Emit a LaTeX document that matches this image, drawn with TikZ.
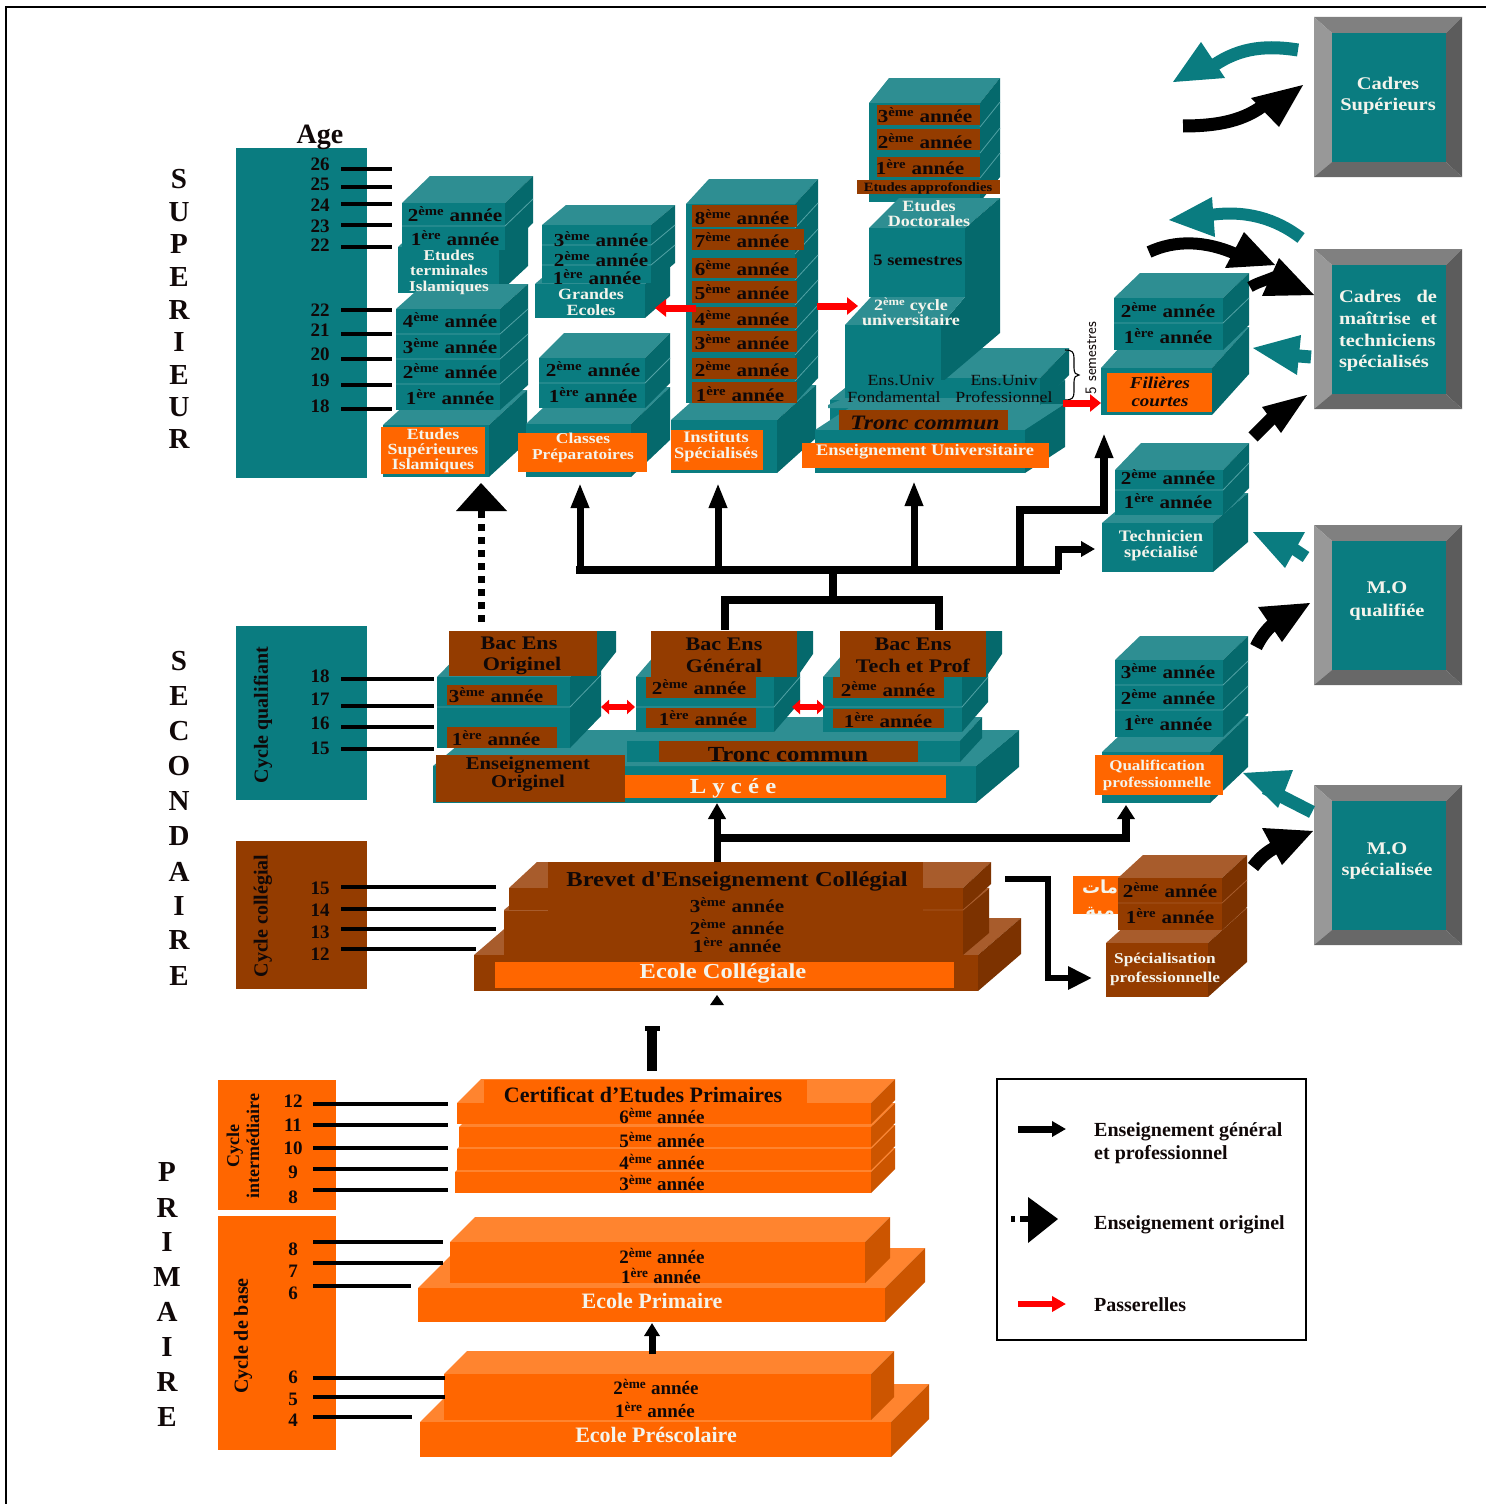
\documentclass[tikz,border=0pt]{standalone}
\usepackage{fontspec}
\setmainfont{Liberation Serif}
\newfontfamily\wf[FakeStretch=1.15]{Liberation Serif}
\newfontfamily\arabicfont[Script=Arabic]{DejaVu Sans}
\TeXXeTstate=1
\usetikzlibrary{arrows.meta}
\definecolor{tf}{HTML}{0A7C80}\definecolor{tt}{HTML}{2E8E92}\definecolor{ts}{HTML}{05696C}
\definecolor{bf}{HTML}{943C00}\definecolor{bt}{HTML}{A85C2C}\definecolor{bs}{HTML}{7C3200}
\definecolor{of}{HTML}{FF6600}\definecolor{ot}{HTML}{FF842F}\definecolor{os}{HTML}{CC5500}
\definecolor{gt}{HTML}{808080}\definecolor{gl}{HTML}{989898}\definecolor{gr}{HTML}{5C5C5C}\definecolor{gb}{HTML}{686868}
\definecolor{dk}{HTML}{100808}
\definecolor{cwhite}{HTML}{F4F4EC}
\newcounter{nn}
\tikzset{
 lab/.style={inner sep=0pt,align=center,text=dk,yshift=-1pt},
 wt/.style={text=cwhite},
 sz/.style={font=\fontsize{#1}{#1}\selectfont\bfseries},
 wd/.style={font=\wf\fontsize{#1}{#1}\selectfont\bfseries},
 wi/.style={font=\wf\fontsize{#1}{#1}\selectfont\bfseries\itshape},
 wn/.style={font=\wf\fontsize{#1}{#1}\selectfont},
 tickline/.style={line width=3.4pt,black},
 conn/.style={line width=8pt,black,miter limit=10},
 bigtip/.style={-{Triangle[length=25pt,width=17pt]}},
 redtip/.style={line width=7pt,red,-{Triangle[length=11pt,width=17pt]}},
 redboth/.style={line width=6pt,red,{Triangle[length=8pt,width=14pt]}-{Triangle[length=8pt,width=14pt]}},
 divline/.style={white!30!tf,line width=.8pt},
}
% scheme, x0,y0,x1,y1, dx,dy
\newcommand\bx[7]{%
 \fill[#1t] (#2,#3)--({#2+#6},{#3-#7})--({#4+#6},{#3-#7})--(#4,#3)--cycle;
 \fill[#1s] (#4,#3)--({#4+#6},{#3-#7})--({#4+#6},{#5-#7})--(#4,#5)--cycle;
 \fill[#1f] (#2,#3) rectangle (#4,#5);}
\newcommand\rc[5]{\fill[#1] (#2,#3) rectangle (#4,#5);}
% divider: x0,x1,y,dx,dy
\newcommand\dv[5]{\draw[divline] (#1,#3)--(#2,#3)--({#2+#4},{#3-#5});}
\newcommand\tx[4][]{\stepcounter{nn}\node[lab,#1] (t\thenn) at (#2,#3) {#4};}
\newcommand\yr[4]{\tx[wd=18.3,yshift=1pt]{#1}{#2}{#3\textsuperscript{#4} année}}
\newcommand\yp[4]{\tx[sz=19,yshift=1pt]{#1}{#2}{#3\textsuperscript{#4} année}}
\newcommand\tick[3]{\stepcounter{nn}\coordinate (c\thenn a) at (#1,#3);\coordinate (c\thenn b) at (#2,#3);\draw[tickline] (c\thenn a)--(c\thenn b);}
\newcommand\gbox[3]{% x y name
 \fill[gt] (#1,#2)--({#1+148},#2)--({#1+132},{#2+16})--({#1+18},{#2+16})--cycle;
 \fill[gl] (#1,#2)--({#1+18},{#2+16})--({#1+18},{#2+145})--(#1,{#2+160})--cycle;
 \fill[gr] ({#1+148},#2)--({#1+132},{#2+16})--({#1+132},{#2+145})--({#1+148},{#2+160})--cycle;
 \fill[gb] (#1,{#2+160})--({#1+18},{#2+145})--({#1+132},{#2+145})--({#1+148},{#2+160})--cycle;
 \node[fill=tf,minimum width=114pt,minimum height=129pt,inner sep=0pt] (#3) at ({#1+75},{#2+80.5}) {};
}
\begin{document}
\begin{tikzpicture}[x=1pt,y=-1pt]
\useasboundingbox (0,0) rectangle (1487,1504);
\draw[line width=2pt,black] (6,1504)--(6,7)--(1486,7);

% section letters
\foreach \c/\y [count=\i] in {S/178,U/211,P/243,E/276,R/309,I/341,E/374,U/406,R/438}
 \node[lab,sz=29] (sup\i) at (179,\y) {\c};
\foreach \c/\y [count=\i] in {S/660,E/695,C/730,O/765,N/800,D/835,A/871,I/905,R/939,E/975}
 \node[lab,sz=29] (sec\i) at (179,\y) {\c};
\foreach \c/\y [count=\i] in {P/1171,R/1207,I/1241,M/1276,A/1311,I/1346,R/1381,E/1416}
 \node[lab,sz=29] (pri\i) at (167,\y) {\c};

% age panels
\rc{tf}{236}{148}{367}{478}
\rc{tf}{236}{626}{367}{800}
\rc{bf}{236}{841}{367}{989}
\rc{of}{218}{1080}{336}{1210}
\rc{of}{218}{1216}{336}{1450}
\tx[sz=28]{320}{136}{Age}
\foreach \n/\y [count=\i] in {26/163,25/183,24/204,23/225,22/244,22/309,21/329,20/353,19/379,18/405,18/675,17/698,16/722,15/747,15/887,14/909,13/931,12/953}
 \node[lab,sz=19] (ag\i) at (320,\y) {\n};
\foreach \n/\y [count=\i] in {12/1100,11/1124,10/1147,9/1171,8/1196,8/1248,7/1270,6/1292,6/1376,5/1398,4/1419}
 \node[lab,sz=19] (ap\i) at (293,\y) {\n};
\tx[sz=20,rotate=90]{263}{714}{Cycle qualifiant}
\tx[sz=20,rotate=90]{263}{915}{Cycle collégial}
\tx[sz=18,rotate=90]{243}{1145}{Cycle\\[2pt]intermédiaire}
\tx[sz=20,rotate=90]{243}{1335}{Cycle de base}

% ===== Superieur, column 1
\bx{t}{398}{247}{499}{293}{29}{27}
\bx{t}{402}{203}{505}{250}{28}{27}
\dv{402}{505}{226}{28}{27}
\bx{t}{383}{425}{489}{477}{38}{35}
\bx{t}{396}{309}{500}{410}{28}{25}
\dv{396}{500}{334}{28}{25}\dv{396}{500}{359}{28}{25}\dv{396}{500}{384}{28}{25}
\rc{of}{381}{427}{485}{474}
\yr{455}{214}{2}{ème}\yr{455}{238}{1}{ère}
\tx[wd=15,wt]{449}{271}{Etudes\\[.5pt]terminales\\[.5pt]Islamiques}
\yr{450}{320}{4}{ème}\yr{450}{346}{3}{ème}\yr{450}{371}{2}{ème}\yr{450}{397}{1}{ère}
\tx[wd=15.5,wt]{433}{450}{Etudes\\[-.5pt]Supérieures\\[-.5pt]Islamiques}

% column 2
\bx{t}{535}{284}{645}{318}{25}{22}
\bx{t}{542}{225}{651}{283}{24}{20}
\dv{542}{651}{245}{24}{20}\dv{542}{651}{265}{24}{20}
\yr{601}{239}{3}{ème}\yr{601}{259}{2}{ème}\yr{597}{277}{1}{ère}
\tx[wd=15.6,wt]{591}{301}{Grandes\\[.4pt]Ecoles}
\bx{t}{526}{424}{631}{477}{39}{37}
\bx{t}{539}{358}{645}{408}{25}{25}
\dv{539}{645}{383}{25}{25}
\rc{of}{518}{433}{647}{472}
\yr{593}{369}{2}{ème}\yr{593}{395}{1}{ère}
\tx[wd=15.1,wt]{583}{447}{Classes\\[.9pt]Préparatoires}

% column 3
\bx{t}{671}{420}{777}{473}{39}{35}
\bx{t}{686}{204}{795}{403}{23}{25}
\dv{795}{795}{228}{23}{25}\dv{795}{795}{254}{23}{25}\dv{795}{795}{280}{23}{25}\dv{795}{795}{305}{23}{25}\dv{795}{795}{330}{23}{25}\dv{795}{795}{355}{23}{25}\dv{795}{795}{381}{23}{25}
\rc{bf}{692}{205}{797}{227}\rc{bf}{692}{229}{804}{250}\rc{bf}{692}{258}{797}{278}\rc{bf}{692}{281}{797}{303}
\rc{bf}{692}{307}{797}{328}\rc{bf}{692}{331}{797}{352}\rc{bf}{692}{358}{797}{379}\rc{bf}{692}{382}{797}{403}
\rc{of}{671}{430}{763}{470}
\yr{742}{217}{8}{ème}\yr{742}{240}{7}{ème}\yr{742}{268}{6}{ème}\yr{742}{292}{5}{ème}
\yr{742}{318}{4}{ème}\yr{742}{342}{3}{ème}\yr{742}{369}{2}{ème}\yr{740}{394}{1}{ère}
\tx[wd=16,wt]{716}{446}{Instituts\\Spécialisés}

% university tower
\bx{t}{869}{103}{980}{202}{20}{25}
\dv{980}{980}{127}{20}{25}\dv{980}{980}{153}{20}{25}\dv{980}{980}{178}{20}{25}
\rc{bf}{877}{105}{980}{125}\rc{bf}{877}{129}{980}{150}\rc{bf}{877}{157}{980}{177}
\rc{bf}{857}{180}{1000}{194}
\yr{925}{115}{3}{ème}\yr{925}{141}{2}{ème}\yr{920}{167}{1}{ère}
\tx[wd=12.7]{928}{187}{Etudes approfondies}
% lower layers
\bx{t}{830}{400}{1040}{430}{25}{20}
\bx{t}{815}{430}{1025}{473}{40}{26}
\rc{of}{802}{443}{1049}{468}
\bx{t}{945}{378}{1040}{405}{29}{30}
\fill[tt] (869,228)--(899,198)--(1000,198)--(965,228)--cycle;
\fill[ts] (965,228)--(1000,198)--(1000,333)--(941,383)--(941,325)--(965,297)--cycle;
\fill[tf] (869,228) rectangle (965,297);
\fill[tt] (845,325)--(871,297)--(965,297)--(941,325)--cycle;
\fill[tf] (845,325) rectangle (941,405);
\fill[tf] (845,380) rectangle (945,405);
\fill[tt] (828,405)--(845,398)--(1040,398)--(1040,408)--(828,408)--cycle;
\rc{bf}{839}{410}{1008}{430}
\tx[wd=15.7,wt]{929}{213}{Etudes\\[-.7pt]Doctorales}
\tx[wd=16]{918}{259}{5 semestres}
\tx[wd=15.7,wt]{911}{311}{2\textsuperscript{ème} cycle\\[-.7pt]universitaire}
\tx[wn=15.5]{901}{379}{Ens.Univ}
\tx[wn=15.5]{894}{396}{Fondamental}
\tx[wn=15.5]{1004}{379}{Ens.Univ}
\tx[wn=15.5]{1004}{396}{Professionnel}
\tx[wi=20.5]{925}{422}{Tronc commun}
\tx[wd=16,wt]{925}{451}{Enseignement Universitaire}
\draw[line width=1.1pt,black] (1065,350) .. controls (1072,350) and (1074,352) .. (1074,358) -- (1074,368) .. controls (1074,373) and (1076,375) .. (1079,375) .. controls (1076,375) and (1074,377) .. (1074,382) -- (1074,392) .. controls (1074,398) and (1072,400) .. (1065,400);
\tx[rotate=90,font=\fontsize{16}{16}\selectfont\sffamily]{1091}{357}{5 semestres}

% Filieres
\bx{t}{1101}{368}{1212}{415}{37}{41}
\bx{t}{1114}{298}{1223}{350}{26}{25}
\dv{1114}{1223}{323}{26}{25}
\rc{of}{1107}{373}{1212}{412}
\yr{1168}{310}{2}{ème}\yr{1168}{336}{1}{ère}
\tx[wi=16.5]{1160}{391}{Filières\\[1.5pt]courtes}
% Technicien
\bx{t}{1102}{523}{1213}{572}{35}{30}
\bx{t}{1115}{470}{1223}{515}{26}{27}
\dv{1115}{1223}{490}{26}{27}
\yr{1168}{477}{2}{ème}\yr{1168}{501}{1}{ère}
\tx[wd=16,wt]{1161}{545}{Technicien\\spécialisé}
% Qualification
\bx{t}{1102}{752}{1210}{803}{38}{36}
\bx{t}{1115}{660}{1223}{737}{25}{24}
\dv{1115}{1223}{685}{25}{24}\dv{1115}{1223}{710}{25}{24}
\rc{of}{1095}{755}{1223}{795}
\yr{1168}{671}{3}{ème}\yr{1168}{697}{2}{ème}\yr{1168}{723}{1}{ère}
\tx[wd=14.8,wt]{1157}{774}{Qualification\\[2pt]professionnelle}
% Specialisation
\rc{of}{1073}{876}{1125}{914}
\begin{scope}
\clip (1073,876) rectangle (1125,914);
\node[lab,wt,font=\arabicfont\bfseries\fontsize{18}{20}\selectfont] (ar1) at (1100,886) {\beginR مات\endR};
\node[lab,wt,font=\arabicfont\bfseries\fontsize{18}{20}\selectfont] (ar2) at (1100,912) {\beginR مية\endR};
\end{scope}
\bx{b}{1106}{943}{1208}{997}{39}{35}
\bx{b}{1118}{878}{1222}{930}{25}{23}
\draw[bt,line width=.8pt] (1118,903)--(1222,903)--(1247,880);
\yr{1170}{890}{2}{ème}\yr{1170}{916}{1}{ère}
\tx[wd=15,wt]{1165}{968}{Spécialisation\\[4pt]professionnelle}

% Lycee
\bx{t}{433}{766}{976}{803}{43}{36}
\fill[tt] (433,766)--(490,755)--(570,748)--(600,730)--(1019,730)--(976,766)--cycle;
\bx{t}{627}{741}{960}{762}{22}{24}
\rc{bf}{659}{741}{918}{762}
\rc{bf}{436}{755}{625}{802}
\rc{of}{625}{775}{946}{798}
\tx[wd=21.5]{788}{754}{Tronc commun}
\tx[wd=18,wt,text=dk]{528}{773}{Enseignement\\[.5pt]Originel}
\tx[wd=21.5,wt]{733}{787}{L y c é e}
% Originel
\bx{t}{437}{677}{570}{748}{31}{32}
\dv{437}{570}{707}{31}{32}
\rc{bf}{447}{685}{557}{705}\rc{bf}{447}{727}{557}{748}
\fill[ts] (597,631)--(616,631)--(616,652)--(597,676)--cycle;
\rc{bf}{449}{631}{597}{676}
\tx[wd=19.2]{519}{642}{Bac Ens}\tx[wd=19.2]{522}{665}{Originel}
\yr{496}{695}{3}{ème}\yr{496}{738}{1}{ère}
% General
\bx{t}{636}{677}{774}{732}{26}{30}
\dv{636}{774}{707}{26}{30}
\rc{bf}{646}{677}{756}{698}\rc{bf}{646}{708}{756}{728}
\fill[ts] (797,631)--(813,631)--(813,654)--(797,677)--cycle;
\rc{bf}{651}{631}{797}{677}
\tx[wd=19.2]{724}{643}{Bac Ens}\tx[wd=19.2]{724}{665}{Général}
\yr{699}{687}{2}{ème}\yr{703}{718}{1}{ère}
% Tech
\bx{t}{823}{677}{962}{732}{26}{30}
\dv{823}{962}{707}{26}{30}
\rc{bf}{833}{677}{944}{698}\rc{bf}{833}{709}{944}{728}
\fill[ts] (986,631)--(1002,631)--(1002,654)--(986,677)--cycle;
\rc{bf}{840}{631}{986}{677}
\tx[wd=19.2]{913}{643}{Bac Ens}\tx[wd=19.2]{913}{665}{Tech et Prof}
\yr{888}{689}{2}{ème}\yr{888}{720}{1}{ère}

% Ecole collegiale
\bx{b}{474}{955}{978}{991}{43}{37}
\rc{of}{495}{962}{954}{988}
\bx{b}{504}{910}{963}{955}{26}{22}
\bx{b}{509}{888}{963}{910}{28}{26}
\draw[bt,line width=.8pt] (504,910)--(548,910);\draw[bt,line width=.8pt] (923,910)--(963,910)--(989,888);
\rc{bf}{548}{862}{923}{888}
\tx[wd=21.3]{737}{880}{Brevet d'Enseignement Collégial}
\yr{737}{905}{3}{ème}\yr{737}{927}{2}{ème}\yr{737}{945}{1}{ère}
\tx[wd=21.3,wt]{723}{972}{Ecole Collégiale}

% Primaire
\bx{o}{455}{1172}{871}{1193}{24}{24}
\bx{o}{457}{1149}{871}{1170}{24}{24}
\bx{o}{459}{1127}{871}{1147}{24}{24}
\bx{o}{457}{1103}{871}{1124}{24}{24}
\rc{of}{484}{1080}{807}{1103}
\tx[sz=22]{643}{1094}{Certificat d'Etudes Primaires}
\yp{662}{1116}{6}{ème}\yp{662}{1140}{5}{ème}\yp{662}{1162}{4}{ème}\yp{662}{1183}{3}{ème}
\bx{o}{418}{1288}{885}{1322}{40}{40}
\bx{o}{450}{1242}{865}{1283}{25}{25}
\yp{662}{1256}{2}{ème}\yp{661}{1276}{1}{ère}
\tx[sz=22,wt]{652}{1300}{Ecole Primaire}
\bx{o}{420}{1422}{891}{1457}{38}{38}
\bx{o}{444}{1374}{871}{1420}{23}{23}
\yp{656}{1387}{2}{ème}\yp{655}{1410}{1}{ère}
\tx[sz=22,wt]{656}{1434}{Ecole Préscolaire}

% tick lines
\tick{341}{392}{169}\tick{341}{392}{187}\tick{341}{392}{204}\tick{341}{392}{225}\tick{341}{392}{247}
\tick{341}{392}{310}\tick{341}{392}{334}\tick{341}{392}{359}\tick{341}{392}{385}\tick{341}{392}{409}
\tick{341}{434}{679}\tick{341}{434}{706}\tick{341}{434}{727}\tick{341}{434}{749}
\tick{341}{496}{887}\tick{341}{496}{909}\tick{341}{496}{929}\tick{341}{476}{949}
\tick{313}{448}{1104}\tick{313}{448}{1125}\tick{313}{448}{1148}\tick{313}{448}{1169}\tick{313}{448}{1190}
\tick{313}{443}{1242}\tick{313}{443}{1263}\tick{313}{411}{1286}
\tick{313}{445}{1378}\tick{313}{445}{1397}\tick{313}{412}{1417}

% connectors: secondary to superior
\coordinate (h0) at (576,570);\coordinate (hE) at (1060,570);
\coordinate (a1) at (580,570);\coordinate (a1t) at (580,483);
\coordinate (a2) at (718,570);\coordinate (a2t) at (718,483);
\coordinate (a3) at (914,570);\coordinate (a3t) at (914,481);
\draw[conn] (h0)--(hE);
\draw[conn,line width=7pt,bigtip] (a1)--(a1t);
\draw[conn,line width=7pt,bigtip] (a2)--(a2t);
\draw[conn,line width=7pt,bigtip] (a3)--(a3t);
\coordinate (v1) at (833,570);\coordinate (v2) at (833,600);
\draw[conn] (v1)--(v2);
\coordinate (b1) at (725,630);\coordinate (b2) at (725,600);\coordinate (b3) at (939,600);\coordinate (b4) at (939,630);
\draw[conn] (b1)--(b2)--(b3)--(b4);
\coordinate (d1) at (1020,570);\coordinate (d2) at (1020,510);\coordinate (d3) at (1104,510);\coordinate (d4) at (1104,433);
\draw[conn,bigtip] (d1)--(d2)--(d3)--(d4);
\coordinate (e1) at (1058,570);\coordinate (e2) at (1058,549);\coordinate (e3) at (1095,549);
\draw[conn,line width=7pt,-{Triangle[length=14pt,width=15pt]}] (e1)--(e2)--(e3);
% dotted original
\coordinate (o1) at (481,622);\coordinate (o2) at (481,510);
\draw[line width=7pt,black,dash pattern=on 7pt off 6pt] (o1)--(o2);
\fill[black] (481,483)--(456,511)--(507,511)--cycle;
% Lycee and college arrows
\coordinate (l1) at (717,862);\coordinate (l2) at (717,803);\coordinate (l3) at (717,838);\coordinate (l4) at (1126,838);\coordinate (l5) at (1126,805);
\draw[conn,line width=7pt,-{Triangle[length=16pt,width=17pt]}] (l1)--(l2);
\draw[conn,line width=7.5pt,-{Triangle[length=14pt,width=17pt]}] (l3)--(l4)--(l5);
\fill[black] (717,995)--(710,1005)--(724,1005)--cycle;
\fill[black] (645,1026) rectangle (660,1031);\fill[black] (647,1026) rectangle (657,1071);
\coordinate (k1) at (1005,879);\coordinate (k2) at (1048,879);\coordinate (k3) at (1048,978);\coordinate (k4) at (1092,978);
\draw[conn,line width=6.5pt,-{Triangle[length=24pt,width=22pt]}] (k1)--(k2)--(k3)--(k4);
\coordinate (p1) at (652,1354);\coordinate (p2) at (652,1323);
\draw[conn,line width=7pt,-{Triangle[length=13pt,width=15pt]}] (p1)--(p2);
% passerelles
\coordinate (r1) at (696,308);\coordinate (r2) at (655,308);\draw[redtip] (r1)--(r2);
\coordinate (r3) at (817,306);\coordinate (r4) at (858,306);\draw[redtip] (r3)--(r4);
\coordinate (r5) at (1063,403);\coordinate (r6) at (1101,403);\draw[redtip] (r5)--(r6);
\coordinate (r7) at (601,707);\coordinate (r8) at (635,707);\draw[redboth] (r7)--(r8);
\coordinate (r9) at (792,707);\coordinate (r10) at (825,707);\draw[redboth] (r9)--(r10);

% grey boxes
\gbox{1314}{17}{gb1}\gbox{1314}{249}{gb2}\gbox{1314}{525}{gb3}\gbox{1314}{785}{gb4}
\tx[wd=17.8,wt]{1388}{94.5}{Cadres\\[3pt]Supérieurs}
\tx[wd=17.8,wt]{1388}{330}{\hbox to 98pt{Cadres\hfill de}\\[4pt]\hbox to 98pt{maîtrise\hfill et}\\[4pt]\hbox to 98pt{techniciens\hfill}\\[4pt]\hbox to 98pt{spécialisés\hfill}}
\tx[wd=17.8,wt]{1387}{600}{M.O\\[5pt]qualifiée}
\tx[wd=17.8,wt]{1387}{860}{M.O\\[4pt]spécialisée}

% block arrows
\draw[tf,line width=13pt] (1298,50) .. controls (1260,44) and (1235,50) .. (1210,68);
\fill[tf] (1201,42)--(1173,82)--(1225,78)--cycle;
\draw[black,line width=13pt] (1183,126) .. controls (1225,126) and (1250,118) .. (1270,100);
\fill[black] (1303,85)--(1251,98)--(1279,127)--cycle;
\draw[tf,line width=12pt] (1301,238) .. controls (1275,218) and (1245,210) .. (1210,215);
\fill[tf] (1212,197)--(1169,220)--(1215,237)--cycle;
\draw[black,line width=12pt] (1149,252) .. controls (1175,240) and (1205,240) .. (1238,255);
\fill[black] (1244,232)--(1225,268)--(1275,265)--cycle;
\draw[black,line width=11pt] (1250,287) .. controls (1258,282) and (1268,280) .. (1278,275);
\fill[black] (1279,258)--(1314,295)--(1262,296)--cycle;
\draw[tf,line width=13pt] (1275,354)--(1311,357);
\fill[tf] (1253,348)--(1301,335)--(1297,375)--cycle;
\draw[black,line width=13pt] (1253,437)--(1275,415);
\fill[black] (1307,395)--(1262,407)--(1281,433)--cycle;
\draw[tf,line width=12pt] (1306,557)--(1285,543);
\fill[tf] (1253,532)--(1305,532)--(1285,568)--cycle;
\draw[black,line width=13pt] (1256,647) .. controls (1262,635) and (1268,628) .. (1278,620);
\fill[black] (1310,603)--(1258,607)--(1282,642)--cycle;
\draw[tf,line width=13pt] (1312,812)--(1265,788);
\fill[tf] (1243,773)--(1293,770)--(1278,808)--cycle;
\draw[black,line width=13pt] (1253,867) .. controls (1262,855) and (1270,850) .. (1280,845);
\fill[black] (1313,831)--(1262,828)--(1282,865)--cycle;

% legend
\node[draw=black,line width=2pt,minimum width=309pt,minimum height=261pt,inner sep=0pt] (legend) at (1151.5,1209.5) {};
\coordinate (g1) at (1018,1129);\coordinate (g2) at (1066,1129);
\draw[line width=7pt,black,-{Triangle[length=14pt,width=15pt]}] (g1)--(g2);
\fill[black] (1011,1216) rectangle (1015,1222);\fill[black] (1020,1216) rectangle (1030,1222);
\fill[black] (1028,1197)--(1028,1243)--(1058,1219)--cycle;
\coordinate (g3) at (1018,1304);\coordinate (g4) at (1066,1304);
\draw[line width=6pt,red,-{Triangle[length=14pt,width=15pt]}] (g3)--(g4);
\tx[sz=20,anchor=west,align=left]{1094}{1131}{Enseignement général}
\tx[sz=20,anchor=west,align=left]{1094}{1154}{et professionnel}
\tx[sz=20,anchor=west,align=left]{1094}{1224}{Enseignement originel}
\tx[sz=20,anchor=west,align=left]{1094}{1304}{Passerelles}
\end{tikzpicture}
\end{document}
